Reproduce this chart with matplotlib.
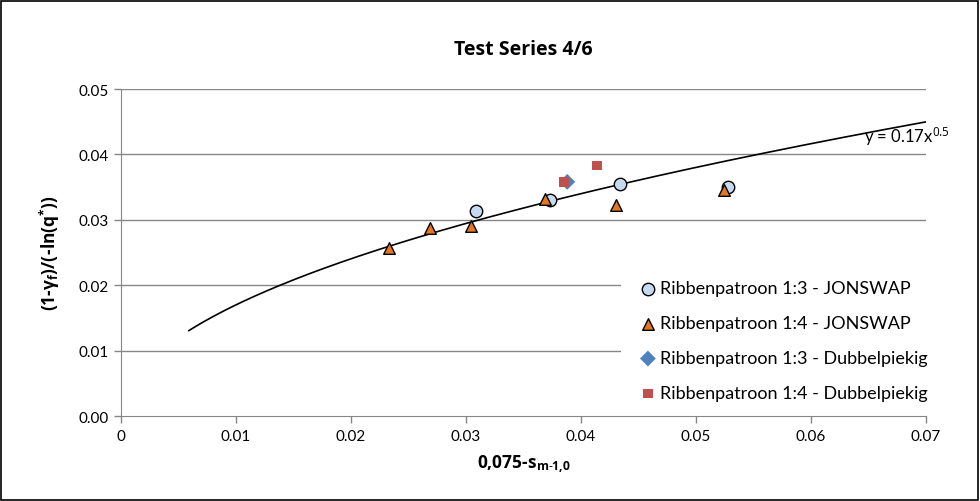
import numpy as np
import matplotlib.pyplot as plt
from matplotlib.patches import Rectangle

plt.rcParams['font.family'] = ['Lato', 'DejaVu Sans']
plt.rcParams['mathtext.fontset'] = 'custom'
plt.rcParams['mathtext.rm'] = 'Open Sans'
plt.rcParams['mathtext.it'] = 'Open Sans'
plt.rcParams['mathtext.bf'] = 'Open Sans:bold'

# ── Data ─────────────────────────────────────────────────────────────────────
x_13_jon = [0.0309, 0.0373, 0.0434, 0.0528]
y_13_jon = [0.0314, 0.0330, 0.0354, 0.0350]

x_14_jon = [0.0233, 0.0269, 0.0304, 0.0369, 0.0430, 0.0524]
y_14_jon = [0.0257, 0.0288, 0.0290, 0.0332, 0.0322, 0.0345]

x_13_dub = [0.0388]
y_13_dub = [0.0358]

x_14_dub = [0.0385, 0.0414]
y_14_dub = [0.0358, 0.0383]

fit_coef, fit_exp = 0.17, 0.5
fit_xmin, fit_xmax = 0.0059, 0.07

labels = ['Ribbenpatroon 1:3 - JONSWAP', 'Ribbenpatroon 1:4 - JONSWAP',
          'Ribbenpatroon 1:3 - Dubbelpiekig', 'Ribbenpatroon 1:4 - Dubbelpiekig']

# ── Plot ─────────────────────────────────────────────────────────────────────
fig = plt.figure(figsize=(9.8, 5.02), dpi=100)
ax = fig.add_axes([0.1235, 0.1693, 0.8214, 0.6514])

GRID = '#868686'
BOLD = ['Open Sans', 'DejaVu Sans']
for yv in [0.01, 0.02, 0.03, 0.04, 0.05]:
    ax.axhline(yv, color=GRID, linewidth=1.0, zorder=0)

xf = np.linspace(fit_xmin, fit_xmax, 300)
ax.plot(xf, fit_coef * xf ** fit_exp, color='black', linewidth=1.2, zorder=2)

ax.scatter(x_13_jon, y_13_jon, s=80, marker='o', facecolor='#C6D9F1',
           edgecolor='black', linewidth=1.0, zorder=3, label=labels[0])
ax.scatter(x_14_jon, y_14_jon, s=70, marker='^', facecolor='#E4771F',
           edgecolor='black', linewidth=1.0, zorder=4, label=labels[1])
ax.scatter(x_13_dub, y_13_dub, s=65, marker='D', facecolor='#4F81BD',
           edgecolor='none', zorder=3, label=labels[2])
ax.scatter(x_14_dub, y_14_dub, s=50, marker='s', facecolor='#C0504D',
           edgecolor='none', zorder=4, label=labels[3])

ax.text(0.0646, 0.0411, 'y = 0.17x$^{0.5}$', fontsize=12, ha='left', va='bottom')

ax.set_xlim(0, 0.07)
ax.set_ylim(0, 0.05)
ax.set_xticks(np.arange(0, 0.0701, 0.01))
ax.set_yticks(np.arange(0, 0.0501, 0.01))
ax.set_xticklabels(['0', '0.01', '0.02', '0.03', '0.04', '0.05', '0.06', '0.07'])
ax.set_yticklabels(['0.00', '0.01', '0.02', '0.03', '0.04', '0.05'])
ax.tick_params(axis='both', labelsize=11, color=GRID, length=5, width=1, pad=4)
for s in ['top', 'right']:
    ax.spines[s].set_visible(False)
for s in ['left', 'bottom']:
    ax.spines[s].set_color(GRID)

ax.set_xlabel('0,075-s$_{\\mathbf{m}\\text{-}\\mathbf{1}{\\mathbf{,}}\\mathbf{0}}$',
              fontsize=12.5, fontweight='bold', family=BOLD, labelpad=7)
ax.set_ylabel('(1-γ$_\\mathbf{f}$)/(-ln(q$^\\mathbf{*}$))',
              fontsize=12.5, fontweight='bold', family=BOLD, labelpad=12)

fig.text(0.534, 0.90, 'Test Series 4/6', fontsize=14, fontweight='bold',
         family=BOLD, ha='center', va='center')

leg = ax.legend(loc='lower right', bbox_to_anchor=(1.024, -0.01), frameon=True,
                facecolor='white', edgecolor='none', framealpha=1, fontsize=13,
                handletextpad=-0.35, labelspacing=1.05, borderpad=0.5,
                fancybox=False)
leg.set_zorder(5)

fig.patches.append(Rectangle((0.001, 0.002), 0.997, 0.995, transform=fig.transFigure,
                             fill=False, edgecolor='black', linewidth=1.2))

plt.savefig('out.png', dpi=100)
